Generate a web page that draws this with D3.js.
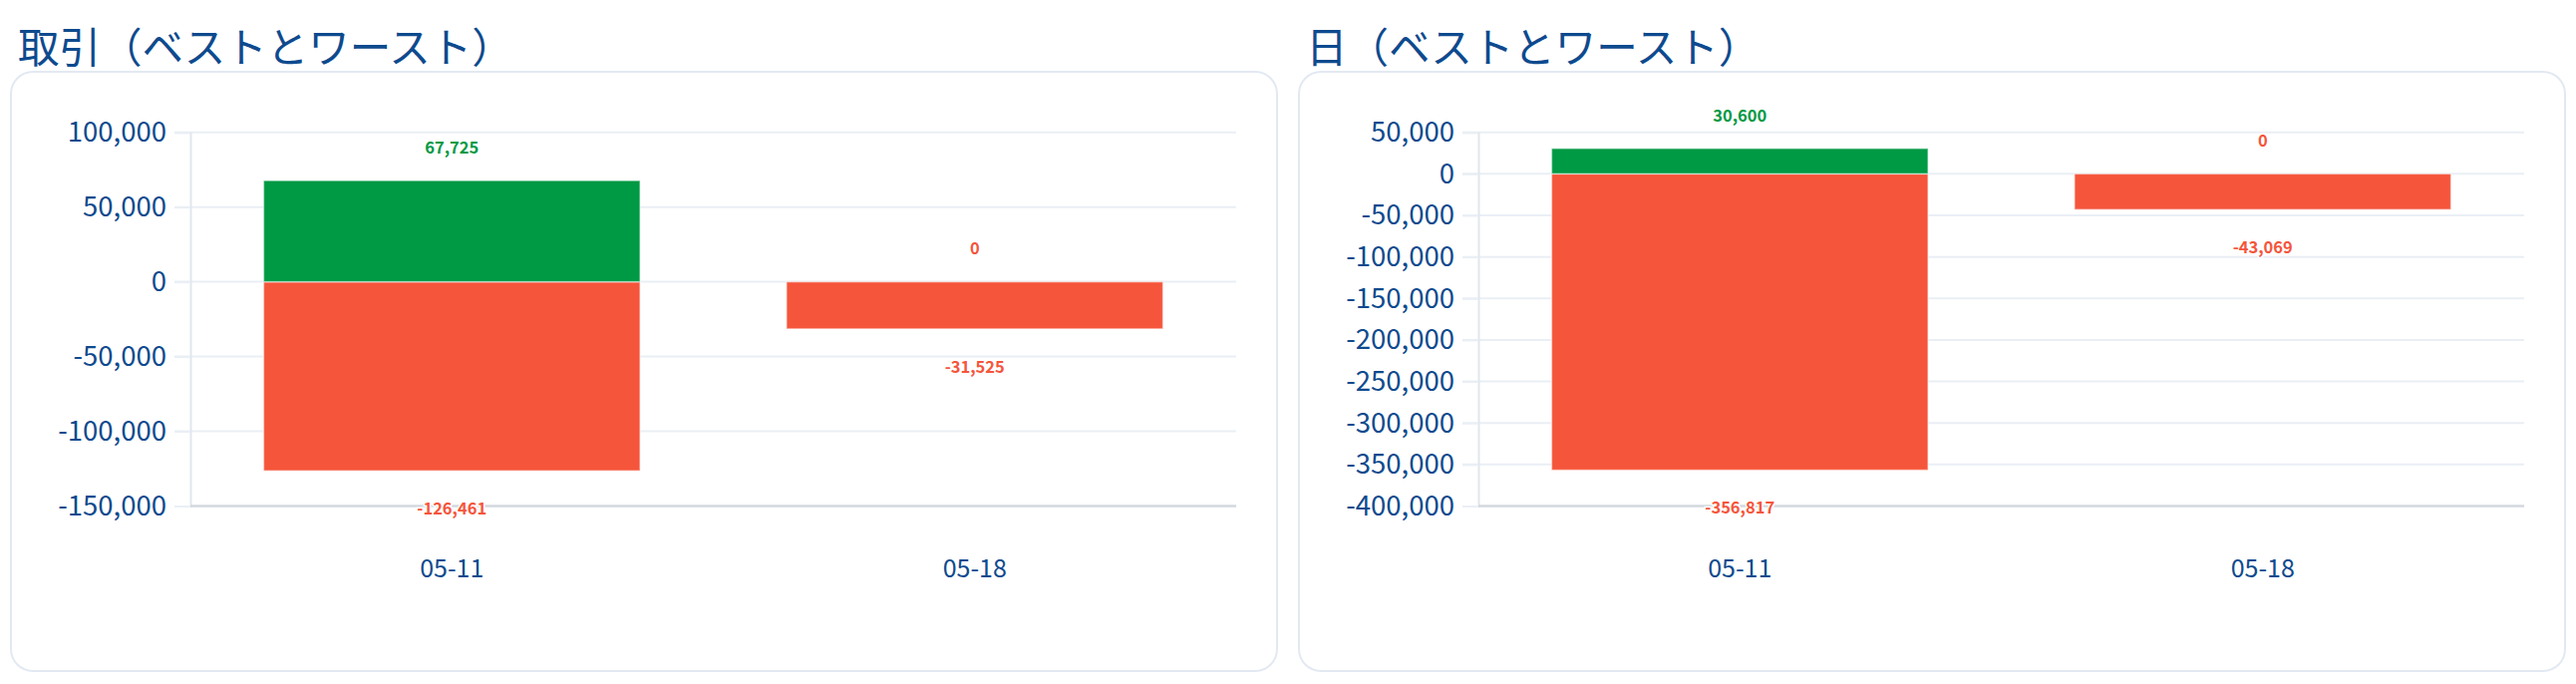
<!DOCTYPE html>
<html>
<head>
<meta charset="utf-8">
<script src="https://cdn.jsdelivr.net/npm/d3@7"></script>
<style>
  body { margin: 0; background: #fff; }
  svg { display: block; font-family: "Noto Sans CJK JP", "Noto Sans", sans-serif; }
</style>
</head>
<body>
<svg id="chart" width="2584" height="686"></svg>
<script>
// data
const dates = ["05-11", "05-18"];

const tradeBest = [67725, 0];
const tradeWorst = [-126461, -31525];
const tradeTicks = [100000, 50000, 0, -50000, -100000, -150000];

const dayBest = [30600, 0];
const dayWorst = [-356817, -43069];
const dayTicks = [50000, 0, -50000, -100000, -150000, -200000, -250000, -300000, -350000, -400000];

const blue = "#0e4a8e", green = "#009944", red = "#f5553b";

// plain hyphen for negatives, like the original
const fmt = d3.formatLocale({ decimal: ".", thousands: ",", grouping: [3], currency: ["", ""], minus: "-" }).format(",");

const svg = d3.select("#chart");

function drawPanel(title, best, worst, ticks, cardX) {
    const cardY = 72, cardW = 1270, cardH = 601;
    const left = cardX + 180, right = cardX + 1229;
    const top = 132.7, bottom = 507.5;

    const g = svg.append("g");

    g.append("text")
        .attr("x", cardX + 7)
        .attr("y", 48)
        .attr("dy", "0.35em")
        .style("font-size", "41.5px")
        .style("fill", blue)
        .text(title);

    g.append("rect")
        .attr("x", cardX).attr("y", cardY)
        .attr("width", cardW).attr("height", cardH)
        .attr("rx", 22)
        .style("fill", "#fff")
        .style("stroke", "#e3e9f2")
        .style("stroke-width", 2);

    const y = d3.scaleLinear()
        .domain([d3.min(ticks), d3.max(ticks)])
        .range([bottom, top]);

    const x = d3.scaleBand()
        .domain(dates)
        .range([left, right])
        .paddingInner(0.28)
        .paddingOuter(0.14);

    // grid lines
    g.append("g").selectAll("line")
        .data(ticks.filter(t => t !== d3.min(ticks)))
        .enter().append("line")
        .attr("x1", left - 16).attr("x2", right)
        .attr("y1", d => y(d)).attr("y2", d => y(d))
        .style("stroke", "#eaeff5")
        .style("stroke-width", 2);

    // y axis
    const yAxis = g.append("g")
        .attr("transform", `translate(${left},0)`)
        .call(d3.axisLeft(y).tickValues(ticks).tickSize(16).tickPadding(8).tickFormat(fmt));
    yAxis.select(".domain").style("stroke", "#e1e7ee").style("stroke-width", 2);
    yAxis.selectAll(".tick line").style("stroke", "#eaeff5").style("stroke-width", 2);
    yAxis.selectAll("text")
        .style("font-size", "27.5px")
        .style("fill", blue)
        .style("font-family", "'Noto Sans CJK JP', sans-serif");

    // x axis
    const xAxis = g.append("g")
        .attr("transform", `translate(0,${bottom})`)
        .call(d3.axisBottom(x).tickSize(0));
    xAxis.select(".domain").remove();
    xAxis.selectAll("text")
        .attr("y", 63)
        .attr("dy", "0.35em")
        .style("font-size", "25px")
        .style("fill", blue)
        .style("font-family", "'Noto Sans CJK JP', sans-serif");

    // bottom axis line
    g.append("line")
        .attr("x1", left).attr("x2", right)
        .attr("y1", bottom).attr("y2", bottom)
        .style("stroke", "#d3d8df")
        .style("stroke-width", 2.5);

    const rows = dates.map((d, i) => ({ date: d, best: best[i], worst: worst[i] }));

    // worst bars
    g.append("g").selectAll("rect")
        .data(rows)
        .enter().append("rect")
        .attr("x", d => x(d.date))
        .attr("width", x.bandwidth())
        .attr("y", y(0))
        .attr("height", d => y(d.worst) - y(0))
        .style("fill", red)
        .style("stroke", "rgba(255,255,255,0.5)")
        .style("stroke-width", 1.5);

    // best bars
    g.append("g").selectAll("rect")
        .data(rows.filter(d => d.best > 0))
        .enter().append("rect")
        .attr("x", d => x(d.date))
        .attr("width", x.bandwidth())
        .attr("y", d => y(d.best))
        .attr("height", d => y(0) - y(d.best))
        .style("fill", green)
        .style("stroke", "rgba(255,255,255,0.5)")
        .style("stroke-width", 1.5);

    const labelStyle = sel => sel
        .attr("text-anchor", "middle")
        .attr("dy", "0.35em")
        .style("font-size", "16.5px")
        .style("font-weight", "bold")
        .style("stroke", "#fff")
        .style("stroke-width", 3)
        .style("paint-order", "stroke");

    g.append("g").selectAll("text")
        .data(rows)
        .enter().append("text")
        .attr("x", d => x(d.date) + x.bandwidth() / 2)
        .attr("y", d => y(d.best) - 33)
        .style("fill", d => d.best > 0 ? green : red)
        .call(labelStyle)
        .text(d => fmt(d.best));

    g.append("g").selectAll("text")
        .data(rows)
        .enter().append("text")
        .attr("x", d => x(d.date) + x.bandwidth() / 2)
        .attr("y", d => y(d.worst) + 38)
        .style("fill", red)
        .call(labelStyle)
        .text(d => fmt(d.worst));
}

drawPanel("取引（ベストとワースト）", tradeBest, tradeWorst, tradeTicks, 11);
drawPanel("日（ベストとワースト）", dayBest, dayWorst, dayTicks, 1303);
</script>
</body>
</html>
